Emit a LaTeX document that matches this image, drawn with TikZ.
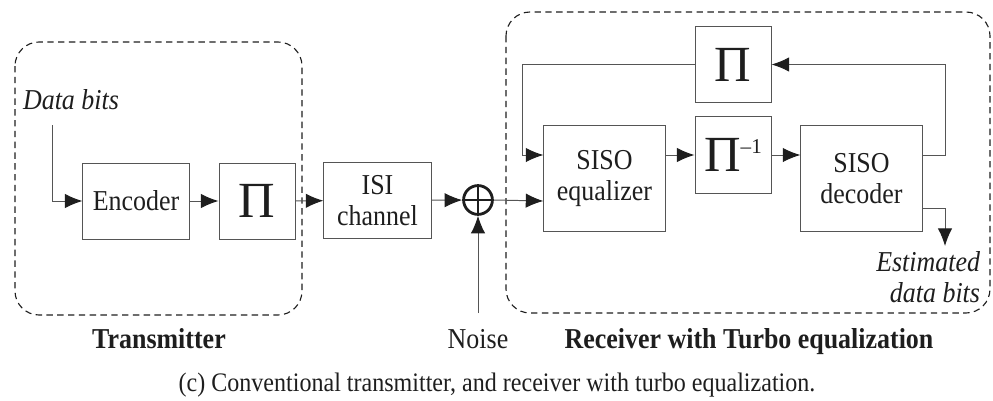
\documentclass[tikz,border=0pt]{standalone}
\usepackage{fontspec}
\setmainfont{Liberation Serif}[FakeStretch=0.9]
\newfontfamily\pifont{Liberation Serif}
\usetikzlibrary{arrows.meta,positioning,calc}
\definecolor{wire}{HTML}{555555}
\definecolor{inkblk}{HTML}{1E1E1E}
\newcommand{\blkfont}{\fontsize{20.5}{22}\selectfont}
\newcommand{\pisym}{{\pifont\fontsize{36}{36}\selectfont Π}}

\begin{document}
\begin{tikzpicture}[x=0.025cm,y=-0.025cm,
      ar/.style={draw=wire,line width=0.7pt,-{Latex[length=4.4mm,width=3.6mm,color=inkblk]}},
      blk/.style={draw=wire,line width=0.7pt,inner sep=0pt,align=center,
                  text=inkblk,font=\blkfont},
      pibox/.style={blk,minimum width=1.9cm,minimum height=1.9cm},
      grp/.style={draw=inkblk,line width=0.8pt,dash pattern=on 1.6mm off 1.1mm,
                  rounded corners=0.6cm},
      lbl/.style={text=inkblk,font=\blkfont},
      txb/.style={text=inkblk,font=\blkfont\bfseries}]
    \useasboundingbox (0,0) rectangle (993,401);

    % ================= transmitter =================
    \draw[grp] (15,42) rectangle (302,315);
    \node[lbl,font=\blkfont\itshape] (dbits) at (71,100) {Data bits};
    \coordinate (din) at (52,125);
    \node[blk,minimum width=2.65cm,minimum height=1.9cm] (enc) at (136,201) {Encoder};
    \node[pibox] (pitx) at (257,201) {\pisym};
    \node[txb] (txlab) at (159,339) {Transmitter};

    % ================= channel =================
    \node[blk,minimum width=2.68cm,minimum height=1.88cm] (isi) at (377.5,200.5) {ISI\\channel};
    \node[circle,draw=inkblk,line width=2pt,minimum size=0.72cm,inner sep=0pt] (add) at (478,200) {};
    \draw[inkblk,line width=1.8pt] (add.north) -- (add.south) (add.west) -- (add.east);
    \coordinate (nz) at (478,313);
    \node[lbl] (noise) at (478,339) {Noise};

    % ================= receiver =================
    \draw[grp] (506,12) rectangle (990,313);
    \node[blk,minimum width=3.03cm,minimum height=2.63cm] (eq) at (604.5,178.5) {SISO\\equalizer};
    \node[pibox,minimum height=1.88cm] (pirx) at (733,64.5) {\pisym};
    \node[pibox] (pinv) at (733,155)
      {\pisym\raisebox{0.46cm}{\pifont\fontsize{15}{15}\selectfont –1}};
    \node[blk,minimum width=3.03cm,minimum height=2.63cm] (dec) at (861.5,178.5) {SISO\\decoder};
    \coordinate (fbr) at (945,64.5);
    \coordinate (fbl) at (522,155);
    \coordinate (dout) at (945,246);
    \node[lbl,font=\blkfont\itshape,align=right,anchor=north east] (est) at (985,247)
      {Estimated\\data bits};
    \node[txb] (rxlab) at (749,342) {Receiver with Turbo equalization};

    % ================= connections =================
    \draw[ar] (din) |- (enc.west);
    \draw[ar] (enc) -- (pitx);
    \draw[ar] (pitx) -- (isi);
    \draw[ar] (isi) -- (add);
    \draw[ar] (nz) -- (add.south);
    \draw[ar] (add.east) -- (eq.west |- 0,201);
    \draw[ar] (eq.east |- pinv) -- (pinv);
    \draw[ar] (pinv) -- (dec.west |- pinv);
    \draw[ar] (dec.east |- pinv) -| (fbr) -- (pirx.east);
    \draw[ar] (pirx.west) -| (fbl) -- (eq.west |- pinv);
    \draw[ar] (dec.east |- 0,208) -| (dout);

    % caption
    \node[lbl,font=\fontsize{19}{21}\selectfont] (cap) at (497,385)
      {(c) Conventional transmitter, and receiver with turbo equalization.};
\end{tikzpicture}
\end{document}
